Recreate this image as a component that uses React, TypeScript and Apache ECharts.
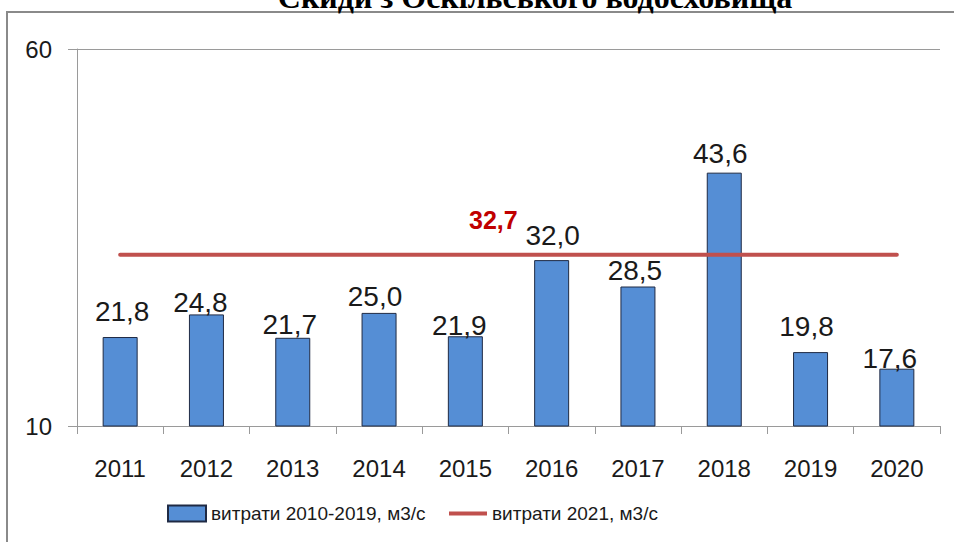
import React, { useEffect, useRef } from "react";
import * as echarts from "echarts";

const titleText = "Скиди з Оскільського водосховища";
const years = ["2011", "2012", "2013", "2014", "2015", "2016", "2017", "2018", "2019", "2020"];
const flows2010to2019 = [21.8, 24.8, 21.7, 25.0, 21.9, 32.0, 28.5, 43.6, 19.8, 17.6];
const flow2021 = 32.7;
const yTicks = { min: 10, max: 60, step: 50 };
const barName = "витрати 2010-2019, м3/с";
const lineName = "витрати 2021, м3/с";

// label nudges (styling only), [dx, dy] per bar
const labelNudge: [number, number][] = [
  [2, -12], [-6, 2], [-3, 1], [-4, -2], [-6, 3], [1, -11], [-3, -2], [-4, -5], [-4, -12], [-7, 4],
];

const fmt = (v: number) => v.toFixed(1).replace(".", ",");
const FONT = "'Liberation Sans', Arial, sans-serif";

export default function App() {
  const ref = useRef<HTMLDivElement>(null);
  useEffect(() => {
    if (!ref.current) return;
    const chart = echarts.init(ref.current, null, { renderer: "svg" });
    const lineData = years.map((_, i) =>
      i === 4
        ? {
            value: flow2021,
            label: {
              show: true,
              position: "top",
              distance: 0,
              offset: [28, -22],
              formatter: () => fmt(flow2021),
              color: "#C00000",
              fontWeight: "bold",
              fontSize: 25,
              fontFamily: FONT,
            },
          }
        : flow2021
    );
    chart.setOption({
      animation: false,
      backgroundColor: "#ffffff",
      textStyle: { fontFamily: FONT },
      graphic: [
        {
          type: "rect",
          shape: { x: 7, y: 12, width: 1000, height: 600 },
          style: { fill: "none", stroke: "#8a8a8a", lineWidth: 2 },
          silent: true,
        },
        {
          type: "text",
          x: 535,
          y: -3,
          style: {
            text: titleText,
            fontFamily: "'Liberation Serif', 'Times New Roman', serif",
            fontWeight: "bold",
            fontSize: 32,
            fill: "#000",
            align: "center",
            verticalAlign: "middle",
          },
        },
      ],
      grid: { left: 77, right: 14, top: 49, bottom: 116, containLabel: false },
      legend: [
        {
          data: [{ name: barName, icon: "rect" }],
          left: 162,
          top: 499,
          itemWidth: 38,
          itemHeight: 16,
          itemGap: 5,
          textStyle: { fontSize: 19, color: "#1a1a1a", fontFamily: FONT },
          selectedMode: false,
        },
        {
          data: [{ name: lineName, icon: "path://M0 0H38V4H0Z" }],
          left: 444,
          top: 499,
          itemWidth: 38,
          itemHeight: 4,
          itemGap: 5,
          textStyle: { fontSize: 19, color: "#1a1a1a", fontFamily: FONT },
          selectedMode: false,
        },
      ],
      xAxis: {
        type: "category",
        data: years,
        boundaryGap: true,
        axisLine: { show: true, lineStyle: { color: "#9a9a9a", width: 1 } },
        axisTick: { show: true, interval: 0, length: 8, lineStyle: { color: "#9a9a9a" } },
        axisLabel: { fontSize: 24, color: "#1a1a1a", margin: 30, fontFamily: FONT, interval: 0 },
      },
      yAxis: {
        type: "value",
        min: yTicks.min,
        max: yTicks.max,
        interval: yTicks.step,
        axisLine: { show: true, lineStyle: { color: "#9a9a9a", width: 1 } },
        axisTick: { show: true, length: 9, lineStyle: { color: "#9a9a9a" } },
        splitLine: { show: true, lineStyle: { color: "#9a9a9a", width: 1 } },
        axisLabel: { fontSize: 24, color: "#1a1a1a", margin: 25, fontFamily: FONT },
      },
      series: [
        {
          name: barName,
          type: "bar",
          data: flows2010to2019.map((v, i) => ({
            value: v,
            label: { offset: labelNudge[i] },
          })),
          barWidth: 35,
          itemStyle: { color: "#558ED5", borderColor: "#1f2a44", borderWidth: 1 },
          label: {
            show: true,
            position: "top",
            distance: 0,
            fontSize: 28,
            color: "#1a1a1a",
            fontFamily: FONT,
            formatter: (p: any) => fmt(p.value),
          },
          z: 2,
        },
        {
          name: lineName,
          type: "line",
          data: lineData,
          symbol: "circle",
          symbolSize: 0,
          showSymbol: true,
          lineStyle: { color: "#C0504D", width: 4, cap: "round" },
          itemStyle: { color: "#C0504D" },
          label: { show: false },
          z: 3,
        },
      ],
    });
    return () => chart.dispose();
  }, []);
  return (
    <div
      ref={ref}
      style={{ position: "fixed", left: 0, top: 0, width: 954, height: 542 }}
    />
  );
}
